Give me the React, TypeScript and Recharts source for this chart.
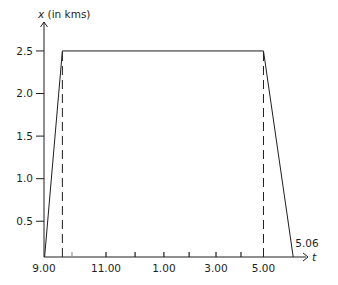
import React from "react";
import {
  LineChart,
  Line,
  XAxis,
  YAxis,
  ReferenceLine,
  ReferenceDot,
} from "recharts";

// t positions along the axis, in hours after 9.00 (as drawn)
const times = [0, 0.67, 8, 9.12];
const distances = [0, 2.5, 2.5, 0];
const timeTicks = [0, 1.02, 2.26, 3.32, 4.37, 5.29, 6.27, 7.18, 8];
const timeLabels = ["9.00", "", "11.00", "", "1.00", "", "3.00", "", "5.00"];
const distTicks = [0.5, 1.0, 1.5, 2.0, 2.5];
const endLabel = "5.06";
const yLabel = "(in kms)";

const X_MAX = 9.55;
const Y_MIN = 0.08;
const Y_MAX = 2.84;
const FONT = "'DejaVu Sans', Verdana, sans-serif";
const INK = "#1e1e1e";

const data = times.map((t, i) => ({ t, x: distances[i] }));

const TimeTick = (props: any) => {
  const { x, y, payload } = props;
  const i = timeTicks.indexOf(payload.value);
  const showLine = i > 0 && i < timeTicks.length - 1;
  return (
    <g>
      {showLine && (
        <path
          d={`M${x},${y} V${y - 5}`}
          stroke={i === 1 ? "#999" : INK}
          strokeWidth={1.2}
          fill="none"
        />
      )}
      <text x={x} y={y + 15} textAnchor="middle" fontSize={10.5} fill={INK} fontFamily={FONT}>
        {timeLabels[i]}
      </text>
    </g>
  );
};

const YArrow = (props: any) => {
  const { cx, cy } = props;
  return (
    <g>
      <path d={`M${cx - 3.5},${cy + 5} L${cx},${cy} L${cx + 3.5},${cy + 5}`} fill="none" stroke={INK} strokeWidth={1} />
      <text x={cx - 6} y={cy - 4} fontSize={10.5} fill={INK} fontFamily={FONT}>
        <tspan fontStyle="italic">x</tspan> {yLabel}
      </text>
    </g>
  );
};

const XArrow = (props: any) => {
  const { cx, cy } = props;
  return (
    <g>
      <path d={`M${cx - 3},${cy - 4} L${cx + 2},${cy} L${cx - 3},${cy + 4}`} fill="none" stroke={INK} strokeWidth={1} />
      <text x={cx + 6} y={cy + 4} fontSize={11} fontStyle="italic" fill={INK} fontFamily={FONT}>
        t
      </text>
    </g>
  );
};

const EndLabel = (props: any) => {
  const { x, y, index } = props;
  if (index !== times.length - 1) return <g />;
  return (
    <text x={x + 1} y={y - 17} fontSize={10.5} fill={INK} fontFamily={FONT}>
      {endLabel}
    </text>
  );
};

export default function App() {
  return (
    <div style={{ position: "absolute", left: 0, top: 0, background: "#fff" }}>
      <LineChart
        width={338}
        height={285}
        data={data}
        margin={{ top: 22, right: 32, left: 0, bottom: 0 }}
      >
        <XAxis
          type="number"
          dataKey="t"
          domain={[0, X_MAX]}
          ticks={timeTicks}
          interval={0}
          tick={<TimeTick />}
          tickLine={false}
          tickSize={0}
          tickMargin={0}
          height={28}
          axisLine={{ stroke: INK }}
        />
        <YAxis
          type="number"
          domain={[Y_MIN, Y_MAX]}
          allowDataOverflow
          ticks={distTicks}
          interval={0}
          width={44}
          tickSize={8}
          tickMargin={3}
          tickFormatter={(v: number) => v.toFixed(1)}
          tick={{ fontSize: 10.5, fill: INK, fontFamily: FONT }}
          tickLine={{ stroke: INK }}
          axisLine={{ stroke: INK }}
        />
        <ReferenceLine
          segment={[{ x: times[1], y: Y_MIN }, { x: times[1], y: distances[1] }]}
          stroke={INK}
          strokeDasharray="9 5"
        />
        <ReferenceLine
          segment={[{ x: times[2], y: Y_MIN }, { x: times[2], y: distances[2] }]}
          stroke={INK}
          strokeDasharray="9 5"
        />
        <Line
          type="linear"
          dataKey="x"
          stroke={INK}
          strokeWidth={1}
          dot={false}
          isAnimationActive={false}
          label={<EndLabel />}
        />
        <ReferenceDot x={0} y={Y_MAX} ifOverflow="visible" shape={<YArrow />} />
        <ReferenceDot x={X_MAX} y={Y_MIN} ifOverflow="visible" shape={<XArrow />} />
      </LineChart>
    </div>
  );
}
